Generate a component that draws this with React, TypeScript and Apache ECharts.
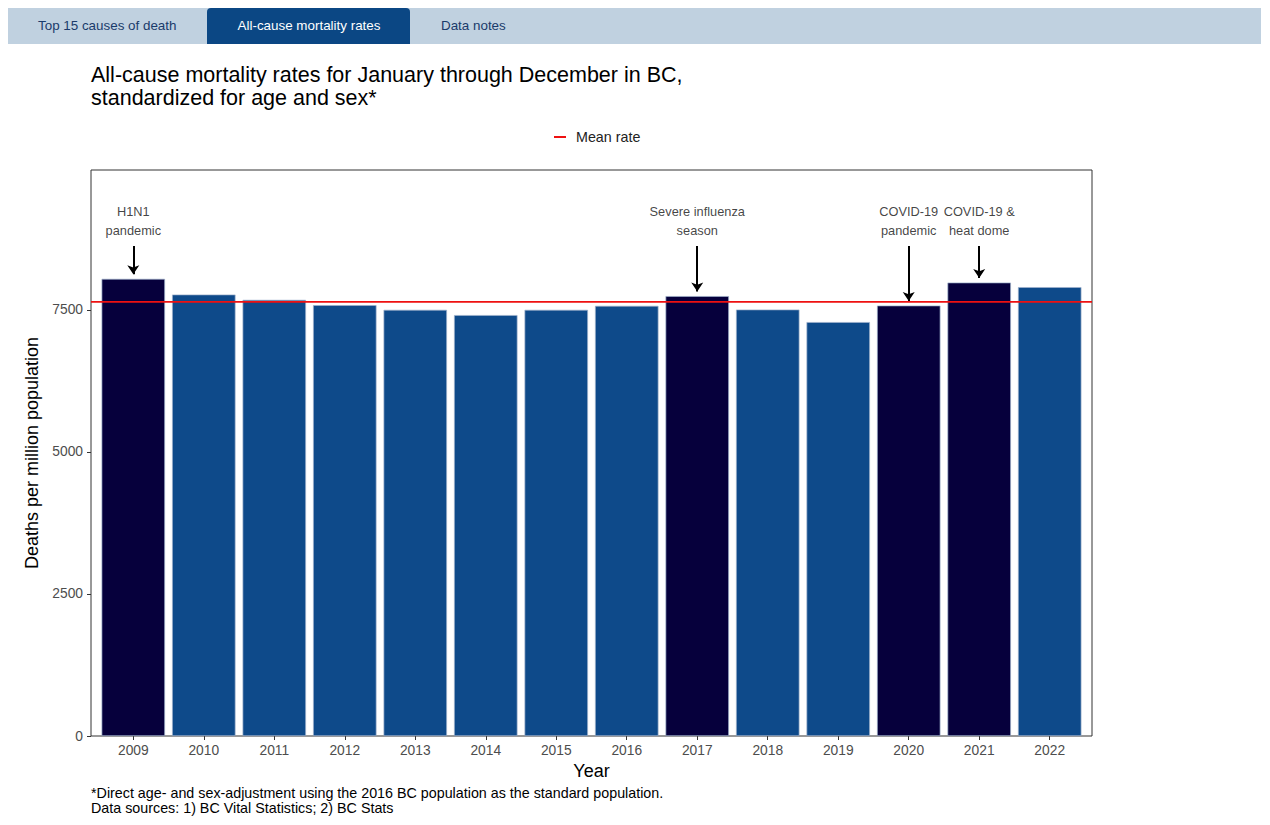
import React, { useEffect, useRef } from "react";
import * as echarts from "echarts";

const years = [2009, 2010, 2011, 2012, 2013, 2014, 2015, 2016, 2017, 2018, 2019, 2020, 2021, 2022];
const rates = [8047, 7771, 7677, 7584, 7502, 7409, 7502, 7572, 7743, 7507, 7286, 7577, 7982, 7901];
const meanRate = 7642;
const highlightYears = [2009, 2017, 2020, 2021];
const annotationYears = [2009, 2017, 2020, 2021];
const annotationTexts = ["H1N1\npandemic", "Severe influenza\nseason", "COVID-19\npandemic", "COVID-19 &\nheat dome"];
const yTicks = [0, 2500, 5000, 7500];
const tabs = ["Top 15 causes of death", "All-cause mortality rates", "Data notes"];

const FONT = "'Liberation Sans', Arial, sans-serif";
const X_MIN = 2008.4;
const X_MAX = 2022.6;
const Y_MAX = 9963;
const GRID = { left: 83, top: 162, width: 1001, height: 566 };
const TEXT_Y = 9058;
const ARROW_TOP = 8627;
const ARROW_GAP = 80;

export default function App() {
  const ref = useRef<HTMLDivElement>(null);
  useEffect(() => {
    if (!ref.current) return;
    const chart = echarts.init(ref.current, null, { renderer: "svg" });
    const barWidth = (0.9 * GRID.width) / (X_MAX - X_MIN);
    const option: any = {
      animation: false,
      textStyle: { fontFamily: FONT },
      title: {
        text: "All-cause mortality rates for January through December in BC,\nstandardized for age and sex*",
        left: 83,
        top: 55,
        padding: 0,
        textStyle: { fontFamily: FONT, fontSize: 21.5, fontWeight: "normal", color: "#000", lineHeight: 23 },
      },
      legend: {
        left: 541,
        top: 117,
        itemWidth: 12,
        itemHeight: 2,
        icon: "rect",
        data: ["Mean rate"],
        textStyle: { fontFamily: FONT, fontSize: 14.3, color: "#222", padding: [0, 0, 0, 5] },
      },
      grid: { ...GRID, show: true, borderColor: "#333", borderWidth: 1, backgroundColor: "transparent" },
      xAxis: {
        type: "value",
        min: X_MIN,
        max: X_MAX,
        name: "Year",
        nameLocation: "middle",
        nameGap: 20,
        nameTextStyle: { fontFamily: FONT, fontSize: 18, color: "#000" },
        axisLine: { show: false },
        splitLine: { show: false },
        axisTick: { show: true, customValues: years, length: 4, lineStyle: { color: "#333" } },
        axisLabel: {
          customValues: years,
          formatter: (v: number) => String(Math.round(v)),
          fontFamily: FONT,
          fontSize: 13.8,
          color: "#4d4d4d",
          margin: 7,
        },
      },
      yAxis: {
        type: "value",
        min: 0,
        max: Y_MAX,
        name: "Deaths per million population",
        nameLocation: "middle",
        nameGap: 35,
        nameTextStyle: { fontFamily: FONT, fontSize: 18, color: "#000" },
        axisLine: { show: false },
        splitLine: { show: false },
        axisTick: { show: true, customValues: yTicks, length: 4, lineStyle: { color: "#333" } },
        axisLabel: {
          customValues: yTicks,
          formatter: (v: number) => String(Math.round(v)),
          fontFamily: FONT,
          fontSize: 13.8,
          color: "#4d4d4d",
          margin: 8,
        },
      },
      series: [
        {
          type: "bar",
          name: "Rate",
          barWidth,
          data: years.map((y, i) => ({
            value: [y, rates[i]],
            itemStyle: {
              color: highlightYears.includes(y) ? "#06003c" : "#0e4a8a",
              borderColor: "#9fb2cc",
              borderWidth: 0.7,
            },
          })),
        },
        {
          type: "line",
          name: "Mean rate",
          data: [
            [X_MIN, meanRate],
            [X_MAX, meanRate],
          ],
          symbol: "none",
          lineStyle: { color: "#ee1111", width: 1.6 },
          itemStyle: { color: "#ee1111" },
          z: 5,
        },
        {
          type: "scatter",
          name: "Annotations",
          symbolSize: 0,
          data: annotationYears.map((y, i) => ({ value: [y, TEXT_Y], name: annotationTexts[i] })),
          label: {
            show: true,
            position: "inside",
            formatter: (p: any) => p.name,
            fontFamily: FONT,
            fontSize: 12.8,
            lineHeight: 19,
            color: "#111",
          },
          markLine: {
            silent: true,
            symbol: ["none", "arrow"],
            symbolSize: [9, 9],
            label: { show: false },
            lineStyle: { color: "#000", width: 2, type: "solid" },
            data: annotationYears.map((y) => {
              const r = rates[years.indexOf(y)];
              return [{ coord: [y, ARROW_TOP] }, { coord: [y, r + ARROW_GAP] }];
            }),
          },
          z: 6,
        },
      ],
      graphic: [
        { type: "rect", shape: { x: 0, y: 0, width: 1253, height: 36 }, style: { fill: "#c0d1e0" } },
        { type: "rect", shape: { x: 199, y: 0, width: 203, height: 36, r: [4, 4, 0, 0] }, style: { fill: "#0b4784" } },
        { type: "text", x: 30, y: 17, style: { text: tabs[0], font: `13.4px ${FONT}`, fill: "#1a3b6b", verticalAlign: "middle" } },
        { type: "text", x: 301, y: 17, style: { text: tabs[1], font: `13.4px ${FONT}`, fill: "#fff", align: "center", verticalAlign: "middle" } },
        { type: "text", x: 433, y: 17, style: { text: tabs[2], font: `13.4px ${FONT}`, fill: "#1a3b6b", verticalAlign: "middle" } },
        {
          type: "text",
          x: 83,
          y: 777,
          style: {
            text: "*Direct age- and sex-adjustment using the 2016 BC population as the standard population.\nData sources: 1) BC Vital Statistics; 2) BC Stats",
            font: `14.3px ${FONT}`,
            lineHeight: 15,
            fill: "#000",
          },
        },
      ],
    };
    chart.setOption(option);
    return () => chart.dispose();
  }, []);
  return <div ref={ref} style={{ width: 1254, height: 809 }} />;
}
